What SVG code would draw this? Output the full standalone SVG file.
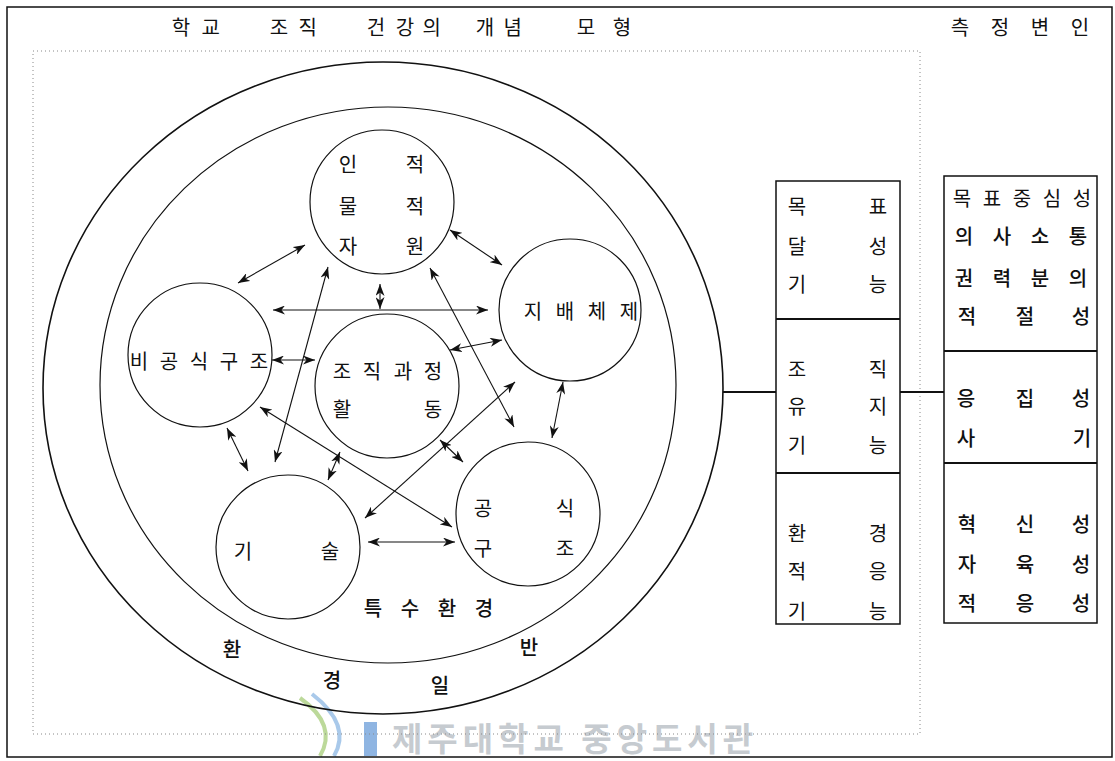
<svg xmlns="http://www.w3.org/2000/svg" width="1115" height="761" viewBox="0 0 1115 761">
<defs>
<style>
 .t{font-family:'Noto Sans CJK KR','Noto Sans',sans-serif;font-size:20px;fill:#111;dominant-baseline:central;text-anchor:middle}
 .b{font-weight:500}
 .c{fill:none;stroke:#111;stroke-width:1.2}
 .ring{fill:none;stroke:#111;stroke-width:1.6}
 .a{fill:none;stroke:#111;stroke-width:1.1;marker-start:url(#ah);marker-end:url(#ah)}
 .box{fill:#fff;stroke:#111;stroke-width:1.5}
 .dv{stroke:#111;stroke-width:2.2}
 .dot{fill:none;stroke:#888;stroke-width:1;stroke-dasharray:1 3}
 .wm{font-family:'Noto Sans CJK KR','Noto Sans',sans-serif;font-size:33px;fill:#c6cbd0;font-weight:bold}
</style>
<marker id="ah" markerUnits="userSpaceOnUse" markerWidth="13" markerHeight="9" refX="12" refY="4.5" orient="auto-start-reverse" viewBox="0 0 13 9"><path d="M0,0 L12,4.5 L0,9 L3.5,4.5 Z" fill="#111"/></marker>
</defs>
<rect x="0" y="0" width="1115" height="761" fill="#fff"/>

<!-- watermark -->
<g id="watermark">
 <path d="M300,698 Q338,725 320,756" fill="none" stroke="#bcd99a" stroke-width="4"/>
 <path d="M312,694 Q352,725 334,756" fill="none" stroke="#a9c9ea" stroke-width="4"/>
 <rect x="364" y="722" width="13" height="34" fill="#8fb5e2"/>
 <text class="wm" x="392" y="751" letter-spacing="5">제주대학교 중앙도서관</text>
</g>

<!-- frames -->
<rect x="7" y="7" width="1105" height="750" fill="none" stroke="#111" stroke-width="1.5"/>
<rect x="33" y="51" width="887" height="683" class="dot"/>

<text class="t" y="26"><tspan x="181">학</tspan><tspan x="213">교</tspan> <tspan x="279">조</tspan><tspan x="310">직</tspan> <tspan x="376">건</tspan><tspan x="405">강</tspan><tspan x="434">의</tspan> <tspan x="485">개</tspan><tspan x="515">념</tspan> <tspan x="586">모</tspan><tspan x="622">형</tspan></text>
<text class="t" y="26"><tspan x="960">측</tspan><tspan x="1000">정</tspan><tspan x="1040">변</tspan><tspan x="1080">인</tspan></text>

<!-- environment rings -->
<g id="general-env">
 <ellipse class="ring" cx="383" cy="388" rx="340" ry="326"/>
 <text class="t b"><tspan x="232" y="648">환</tspan><tspan x="332" y="679">경</tspan><tspan x="440" y="684">일</tspan><tspan x="529" y="646">반</tspan></text>
</g>
<g id="special-env">
 <ellipse class="c" cx="388" cy="385" rx="288" ry="278"/>
 <text class="t b" y="607"><tspan x="373">특</tspan><tspan x="410">수</tspan><tspan x="447">환</tspan><tspan x="484">경</tspan></text>
</g>

<!-- nodes -->
<g id="resources">
 <circle class="c" cx="382" cy="202" r="72"/>
 <text class="t" y="163"><tspan x="348">인</tspan><tspan x="415">적</tspan></text>
 <text class="t" y="205"><tspan x="348">물</tspan><tspan x="415">적</tspan></text>
 <text class="t" y="245"><tspan x="348">자</tspan><tspan x="415">원</tspan></text>
</g>
<g id="informal">
 <circle class="c" cx="200" cy="355" r="72"/>
 <text class="t" y="360"><tspan x="139">비</tspan><tspan x="169">공</tspan><tspan x="199">식</tspan><tspan x="229">구</tspan><tspan x="259">조</tspan></text>
</g>
<g id="process">
 <circle class="c" cx="387" cy="386" r="72"/>
 <text class="t" y="370"><tspan x="342">조</tspan><tspan x="372">직</tspan><tspan x="403">과</tspan><tspan x="433">정</tspan></text>
 <text class="t" y="408"><tspan x="342">활</tspan><tspan x="433">동</tspan></text>
</g>
<g id="governance">
 <circle class="c" cx="570" cy="310" r="71"/>
 <text class="t" y="310"><tspan x="533">지</tspan><tspan x="565">배</tspan><tspan x="597">체</tspan><tspan x="629">제</tspan></text>
</g>
<g id="formal">
 <circle class="c" cx="528" cy="514" r="72"/>
 <text class="t" y="507"><tspan x="483">공</tspan><tspan x="565">식</tspan></text>
 <text class="t" y="547"><tspan x="483">구</tspan><tspan x="565">조</tspan></text>
</g>
<g id="technology">
 <circle class="c" cx="288" cy="547" r="72"/>
 <text class="t" y="550"><tspan x="243">기</tspan><tspan x="330">술</tspan></text>
</g>

<!-- function boxes -->
<g id="functions">
 <rect class="box" x="776" y="181" width="124" height="443"/>
 <line class="dv" x1="776" y1="319" x2="900" y2="319"/>
 <line class="dv" x1="776" y1="473" x2="900" y2="473"/>
 <text class="t" y="205"><tspan x="797">목</tspan><tspan x="878">표</tspan></text>
 <text class="t" y="245"><tspan x="797">달</tspan><tspan x="878">성</tspan></text>
 <text class="t" y="283"><tspan x="797">기</tspan><tspan x="878">능</tspan></text>
 <text class="t" y="368"><tspan x="797">조</tspan><tspan x="878">직</tspan></text>
 <text class="t" y="405"><tspan x="797">유</tspan><tspan x="878">지</tspan></text>
 <text class="t" y="444"><tspan x="797">기</tspan><tspan x="878">능</tspan></text>
 <text class="t" y="532"><tspan x="797">환</tspan><tspan x="878">경</tspan></text>
 <text class="t" y="570"><tspan x="797">적</tspan><tspan x="878">응</tspan></text>
 <text class="t" y="610"><tspan x="797">기</tspan><tspan x="878">능</tspan></text>
</g>
<g id="variables">
 <rect class="box" x="944" y="176" width="153" height="447"/>
 <line class="dv" x1="944" y1="351" x2="1097" y2="351"/>
 <line class="dv" x1="944" y1="463" x2="1097" y2="463"/>
 <text class="t" y="197"><tspan x="962">목</tspan><tspan x="992">표</tspan><tspan x="1022">중</tspan><tspan x="1052">심</tspan><tspan x="1082">성</tspan></text>
 <text class="t b" y="235"><tspan x="964">의</tspan><tspan x="1002">사</tspan><tspan x="1040">소</tspan><tspan x="1078">통</tspan></text>
 <text class="t b" y="277"><tspan x="964">권</tspan><tspan x="1002">력</tspan><tspan x="1040">분</tspan><tspan x="1078">의</tspan></text>
 <text class="t b" y="315"><tspan x="967">적</tspan><tspan x="1025">절</tspan><tspan x="1081">성</tspan></text>
 <text class="t b" y="397"><tspan x="966">응</tspan><tspan x="1025">집</tspan><tspan x="1081">성</tspan></text>
 <text class="t b" y="437"><tspan x="966">사</tspan><tspan x="1082">기</tspan></text>
 <text class="t b" y="523"><tspan x="967">혁</tspan><tspan x="1025">신</tspan><tspan x="1081">성</tspan></text>
 <text class="t b" y="563"><tspan x="967">자</tspan><tspan x="1025">육</tspan><tspan x="1081">성</tspan></text>
 <text class="t b" y="602"><tspan x="967">적</tspan><tspan x="1025">응</tspan><tspan x="1081">성</tspan></text>
</g>

<!-- connectors -->
<g id="connectors">
 <line x1="723" y1="392" x2="776" y2="392" stroke="#111" stroke-width="2"/>
 <line x1="900" y1="392" x2="944" y2="392" stroke="#111" stroke-width="2"/>
 <line class="a" x1="305" y1="245" x2="238" y2="283"/>
 <line class="a" x1="450" y1="230" x2="502" y2="265"/>
 <line class="a" x1="273" y1="310" x2="488" y2="310"/>
 <line class="a" x1="380" y1="284" x2="380" y2="309"/>
 <line class="a" x1="272" y1="360" x2="315" y2="360"/>
 <line class="a" x1="328" y1="267" x2="275" y2="462"/>
 <line class="a" x1="430" y1="268" x2="514" y2="427"/>
 <line class="a" x1="450" y1="350" x2="502" y2="340"/>
 <line class="a" x1="515" y1="382" x2="365" y2="518"/>
 <line class="a" x1="260" y1="407" x2="452" y2="527"/>
 <line class="a" x1="227" y1="428" x2="248" y2="471"/>
 <line class="a" x1="340" y1="452" x2="328" y2="480"/>
 <line class="a" x1="440" y1="440" x2="463" y2="462"/>
 <line class="a" x1="368" y1="542" x2="455" y2="542"/>
 <line class="a" x1="563" y1="382" x2="552" y2="438"/>
</g>
</svg>
